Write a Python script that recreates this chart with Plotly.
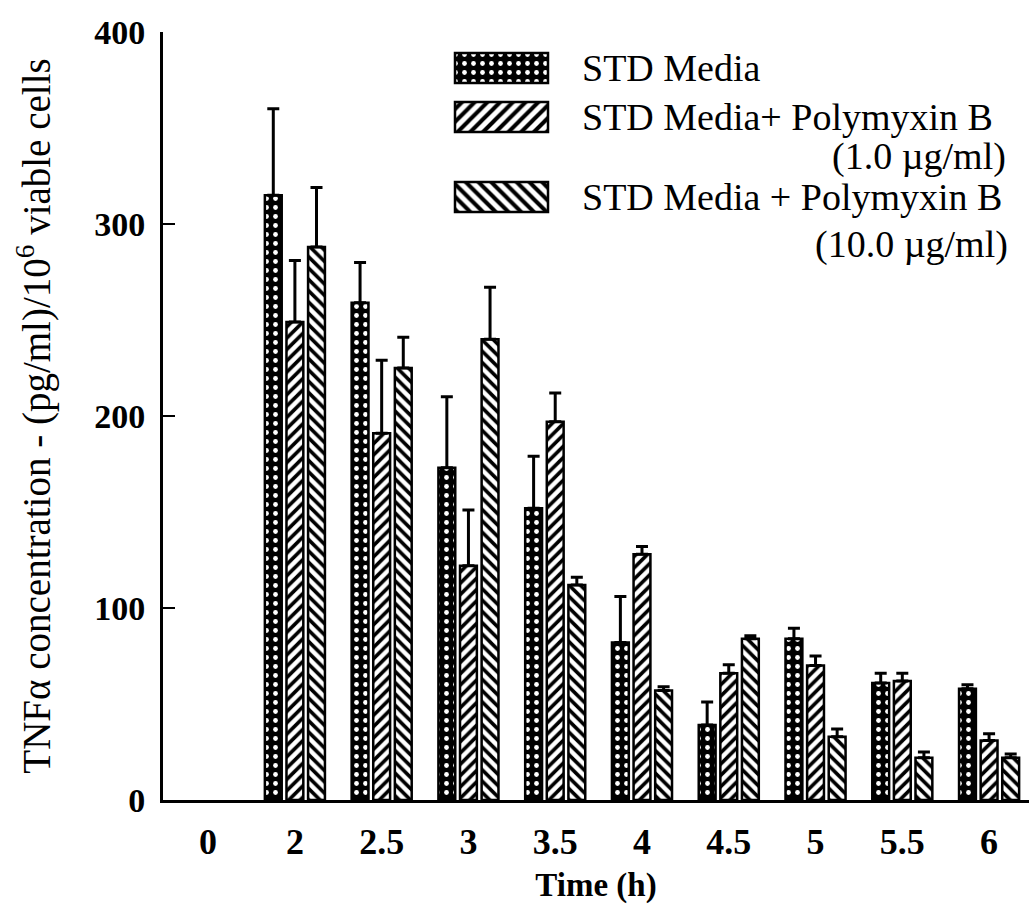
import plotly.graph_objects as go

# Sampling times (h)
times = ["0", "2", "2.5", "3", "3.5", "4", "4.5", "5", "5.5", "6"]

# TNF-alpha concentration, (pg/ml)/10^6 viable cells, mean and +SD
std_media = [None, 315, 259, 173, 152, 82, 39, 84, 61, 58]
std_media_sd = [None, 45, 21, 37, 27, 24, 12, 5.5, 5, 2]

pmb_1 = [None, 249, 191, 122, 197, 128, 66, 70, 62, 31]
pmb_1_sd = [None, 32, 38, 29, 15, 4, 4.5, 5, 4, 3.5]

pmb_10 = [None, 288, 225, 240, 112, 57, 84, 33, 22, 22]
pmb_10_sd = [None, 31, 16, 27, 4, 2, 1.5, 4, 3, 2]

series_names = [
    "STD Media",
    "STD Media+ Polymyxin B (1.0 µg/ml)",
    "STD Media + Polymyxin B (10.0 µg/ml)",
]

FONT = "Liberation Serif"
W, H = 1029, 914
ML, MR, MT, MB = 163, 0, 32, 114

# Fill styles: white dots on black, and the two diagonal hatches
styles = [
    dict(bg="black", fg="white", shape=".", size=9, solidity=0.22),
    dict(bg="white", fg="black", shape="/", size=8, solidity=0.45),
    dict(bg="white", fg="black", shape="\\", size=8, solidity=0.45),
]


def fill(st, size=None):
    return dict(
        shape=st["shape"],
        fgcolor=st["fg"],
        bgcolor=st["bg"],
        size=size or st["size"],
        solidity=st["solidity"],
        fillmode="replace",
    )


def bar_trace(name, values, sd, st):
    return go.Bar(
        x=times,
        y=values,
        name=name,
        showlegend=False,
        marker=dict(
            color=st["bg"],
            line=dict(color="black", width=2.5),
            pattern=fill(st),
        ),
        error_y=dict(
            type="data",
            array=sd,
            arrayminus=[0] * len(sd),
            symmetric=False,
            color="black",
            thickness=3,
            width=6,
        ),
    )


fig = go.Figure()
fig.add_trace(bar_trace(series_names[0], std_media, std_media_sd, styles[0]))
fig.add_trace(bar_trace(series_names[1], pmb_1, pmb_1_sd, styles[1]))
fig.add_trace(bar_trace(series_names[2], pmb_10, pmb_10_sd, styles[2]))

# Legend key: an overlay axis pair measured in pixels of the plotting area
key_rows_y = [68, 117, 197]
key_left, key_len, key_thick = 455, 93, 30
for st, row_y, name in zip(styles, key_rows_y, series_names):
    fig.add_trace(
        go.Bar(
            orientation="h",
            y=[row_y],
            x=[key_len],
            base=[key_left],
            width=[key_thick],
            offsetgroup="key",
            xaxis="x2",
            yaxis="y2",
            name=name,
            showlegend=False,
            hoverinfo="skip",
            marker=dict(
                color=st["bg"],
                line=dict(color="black", width=2.5),
                pattern=fill(st, size=9),
            ),
        )
    )

key_text = [
    ("STD Media", 580, 68, "left"),
    ("STD Media+ Polymyxin B", 580, 117, "left"),
    ("(1.0 µg/ml)", 1008, 156, "right"),
    ("STD Media + Polymyxin B", 580, 197, "left"),
    ("(10.0 µg/ml)", 1010, 244, "right"),
]
for txt, x, y, anchor in key_text:
    fig.add_annotation(
        text=txt, x=x, y=y, xref="x2", yref="y2",
        xanchor=anchor, yanchor="middle", showarrow=False,
        font=dict(family=FONT, size=38, color="black"),
    )

fig.update_layout(
    width=W,
    height=H,
    margin=dict(l=ML, r=MR, t=MT, b=MB, pad=0),
    paper_bgcolor="white",
    plot_bgcolor="rgba(0,0,0,0)",
    barmode="group",
    bargap=0.253,
    bargroupgap=0.22,
    showlegend=False,
    xaxis=dict(
        type="category",
        range=[-0.52, 9.46],
        showline=True,
        linecolor="black",
        linewidth=3,
        ticks="",
        showgrid=False,
        zeroline=False,
        ticklabelstandoff=8,
        tickfont=dict(family=FONT, size=36, color="black", weight="bold"),
        title=dict(
            text="Time (h)",
            font=dict(family=FONT, size=33, color="black", weight="bold"),
            standoff=12,
        ),
    ),
    yaxis=dict(
        range=[0, 400],
        tickvals=[0, 100, 200, 300, 400],
        showline=True,
        linecolor="black",
        linewidth=3,
        ticks="inside",
        ticklen=12,
        tickwidth=2,
        tickcolor="black",
        showgrid=False,
        zeroline=False,
        ticklabelstandoff=8,
        tickfont=dict(family=FONT, size=34, color="black", weight="bold"),
        title=dict(
            text="TNFα concentration - (pg/ml)/10<sup>6</sup> viable cells",
            font=dict(family=FONT, size=39, color="black"),
            standoff=32,
        ),
    ),
    xaxis2=dict(domain=[0, 1], range=[ML, W - MR], anchor="y2", visible=False,
                fixedrange=True),
    yaxis2=dict(domain=[0, 1], range=[H - MB, MT], anchor="x2", visible=False,
                fixedrange=True),
)

fig.write_html("out.html")
